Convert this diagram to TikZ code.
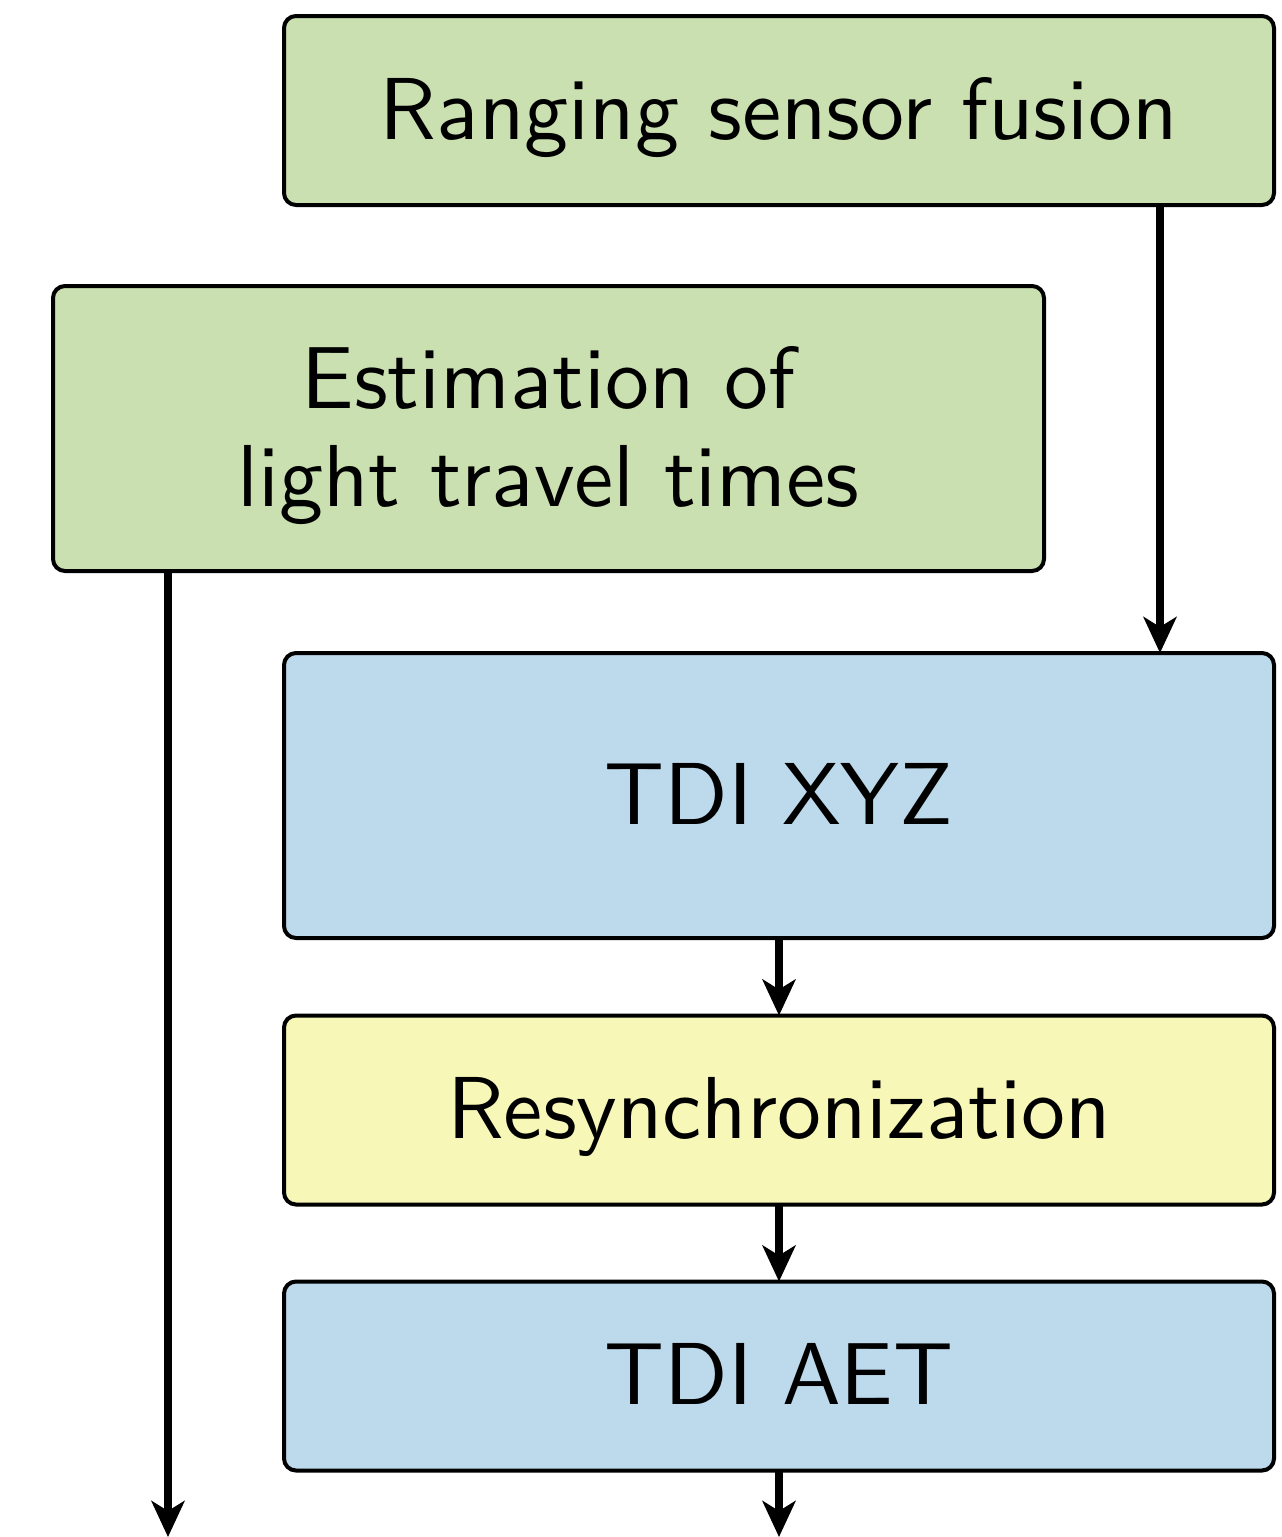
\documentclass[tikz,border=0pt]{standalone}
\usetikzlibrary{arrows.meta}
\renewcommand{\familydefault}{\sfdefault}
\definecolor{boxgreen}{HTML}{CBE0B0}
\definecolor{boxblue}{HTML}{BCDAEC}
\definecolor{boxyellow}{HTML}{F7F7B7}
\newcommand{\bigtxt}[1]{\scalebox{4.4}{\fontsize{10}{11.2}\selectfont\begin{tabular}{@{}c@{}}\rule{0pt}{9.9pt}#1\end{tabular}}}
\tikzset{
  blk/.style={draw=black, line width=2pt, rounded corners=6pt, inner sep=0pt, outer sep=0pt,
    align=center},
  arr/.style={line width=3.8pt, -{Stealth[length=18pt,width=16.5pt,inset=5pt]}},
}
\begin{document}
\begin{tikzpicture}[x=0.5pt,y=-0.5pt]
\useasboundingbox (0,0) rectangle (1281,1537);
\node[blk, fill=boxgreen, minimum width=495pt, minimum height=94.5pt] (rng) at (779,110.5) {\bigtxt{Ranging sensor fusion}};
\node[blk, fill=boxgreen, minimum width=495.5pt, minimum height=142.5pt] (est) at (548.5,428.5) {\bigtxt{Estimation of\\light travel times}};
\node[blk, fill=boxblue, minimum width=495pt, minimum height=142.5pt] (xyz) at (779,795.5) {\bigtxt{TDI XYZ}};
\node[blk, fill=boxyellow, minimum width=495pt, minimum height=94.5pt] (res) at (779,1110) {\bigtxt{Resynchronization}};
\node[blk, fill=boxblue, minimum width=495pt, minimum height=94.5pt] (aet) at (779,1376) {\bigtxt{TDI AET}};
\coordinate (c1) at (1160,0);
\coordinate (outL) at (168,1537);
\coordinate (outR) at (779,1537);
\draw[arr] (c1 |- rng.south) -- (c1 |- xyz.north);
\draw[arr] (est.south -| outL) -- (outL);
\draw[arr] (xyz.south) -- (res.north);
\draw[arr] (res.south) -- (aet.north);
\draw[arr] (aet.south) -- (outR);
\end{tikzpicture}
\end{document}
